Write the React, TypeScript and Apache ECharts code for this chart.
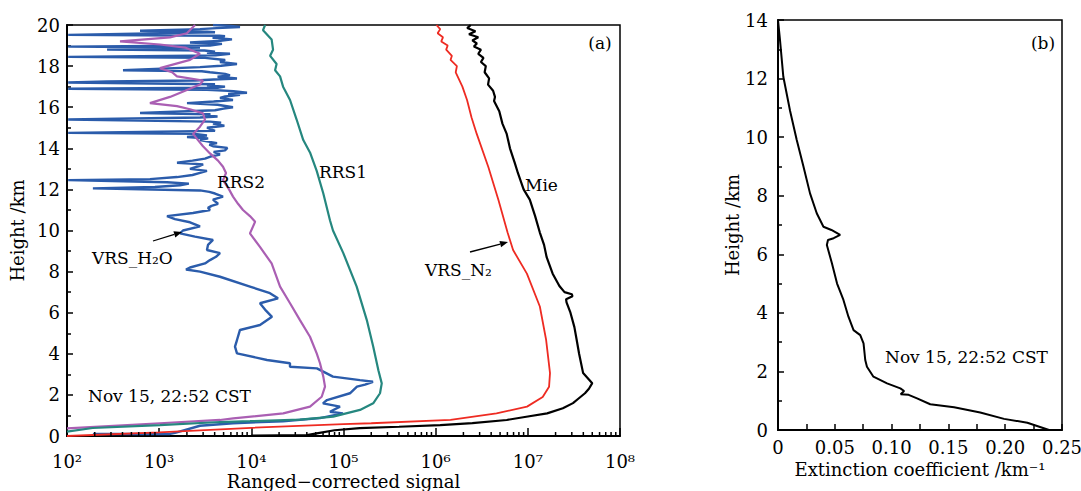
import React, { useEffect, useRef } from "react";
import * as echarts from "echarts";

const FONT = "DejaVu Serif";

// ---------- Panel (a): ranged-corrected signal vs height ----------
// [signal, height km]
const vrsH2O: [number, number][] = [
  [3836, 20], [6000, 19.95], [7532, 19.9], [4200, 19.85], [2774, 19.8], [620, 19.72], [3300, 19.68],
  [4035, 19.65], [103, 19.52], [4500, 19.48], [5179, 19.45], [3800, 19.38], [6168, 19.3], [4400, 19.22],
  [2159, 19.15], [4800, 19.08], [3560, 19.0], [103, 18.95], [2774, 18.9], [272, 18.8], [3100, 18.76],
  [4035, 18.7], [3300, 18.65], [5868, 18.6], [4100, 18.52], [103, 18.45], [3143, 18.4], [5200, 18.3],
  [4570, 18.2], [6988, 18.1], [4700, 18.02], [2774, 17.95], [405, 17.8], [2900, 17.75], [3560, 17.7],
  [5200, 17.62], [5868, 17.55], [4300, 17.48], [6988, 17.4], [3900, 17.35], [2448, 17.3], [272, 17.25],
  [103, 17.2], [4035, 17.12], [3300, 17.06], [5179, 17.0], [4400, 16.95], [103, 16.9], [3302, 16.85],
  [6400, 16.78], [8974, 16.7], [5600, 16.65], [7532, 16.6], [5200, 16.52], [4570, 16.45], [6324, 16.35],
  [3900, 16.28], [2005, 16.2], [4300, 16.12], [6324, 16.0], [5000, 15.93], [4035, 15.85], [620, 15.72],
  [3600, 15.66], [3143, 15.6], [4300, 15.55], [2774, 15.5], [103, 15.4], [3560, 15.3], [4700, 15.25],
  [3836, 15.2], [5100, 15.1], [3302, 15.0], [4035, 14.85], [103, 14.75], [2448, 14.7], [3300, 14.62],
  [2005, 14.55], [3400, 14.48], [2774, 14.4], [4241, 14.25], [3500, 14.18], [3836, 14.1], [5500, 14.02],
  [5179, 13.9], [3900, 13.82], [4570, 13.7], [3600, 13.6], [3143, 13.5], [2300, 13.4], [1562, 13.3],
  [3000, 13.22], [2774, 13.15], [2159, 13.0], [3300, 12.9], [2774, 12.8], [2300, 12.7], [1562, 12.6],
  [795, 12.5], [103, 12.45], [1216, 12.35], [2100, 12.28], [1682, 12.2], [900, 12.12], [191, 12.05],
  [2774, 11.95], [3500, 11.88], [4035, 11.8], [4926, 11.65], [3836, 11.5], [4348, 11.3], [3700, 11.2],
  [3387, 11.1], [3560, 11.0], [2328, 10.85], [1216, 10.7], [1485, 10.55], [2159, 10.4], [2774, 10.2],
  [1814, 10.0], [1682, 9.86], [2448, 9.7], [3836, 9.54], [3387, 9.3], [3302, 9.05], [4570, 8.9],
  [4137, 8.72], [3560, 8.56], [3143, 8.4], [2159, 8.2], [1955, 8.1], [2774, 8.0], [4570, 7.75],
  [9670, 7.27], [15930, 6.95], [19460, 6.7], [12410, 6.46], [14420, 6.1], [16750, 5.8], [12410, 5.4],
  [7532, 5.16], [6988, 4.67], [6648, 4.35], [6988, 4.02], [14790, 3.7], [26260, 3.54], [26260, 3.37],
  [51510, 3.29], [76840, 2.89], [150900, 2.72], [208900, 2.64], [171100, 2.5], [140000, 2.4],
  [117500, 2.08], [66180, 1.75], [59880, 1.59], [91580, 1.43], [71330, 1.18], [98650, 1.1],
  [55560, 0.87], [22060, 0.72], [6324, 0.62], [2774, 0.5], [1485, 0.15], [1310, 0.1], [191, 0.1],
];

const rrs2: [number, number][] = [
  [2450, 20], [2330, 19.9], [2000, 19.6], [1310, 19.4], [376, 19.2], [1020, 19.05], [1910, 18.9],
  [2770, 18.6], [2160, 18.3], [1020, 17.9], [1380, 17.7], [1560, 17.5], [2990, 17.3], [2770, 17.1],
  [1910, 16.8], [1310, 16.5], [794, 16.2], [1560, 16.05], [2160, 15.9], [2990, 15.7], [3140, 15.4],
  [2770, 15.05], [2330, 14.7], [2640, 14.4], [2990, 14.1], [3560, 13.75], [4350, 13.4], [4930, 13.1],
  [5310, 12.8], [4930, 12.45], [5730, 12.0], [6330, 11.65], [7170, 11.3], [8120, 11.0], [9660, 10.7],
  [11000, 10.43], [9660, 9.86], [12400, 9.2], [16600, 8.4], [20500, 7.27], [26300, 6.46],
  [33700, 5.64], [43300, 4.83], [51200, 4.02], [55600, 3.54], [60400, 2.89], [63000, 2.4],
  [58000, 1.91], [43300, 1.43], [22200, 1.1], [6370, 0.86], [4570, 0.78], [1020, 0.62], [100, 0.37],
];

const rrs1: [number, number][] = [
  [14100, 20], [13400, 19.75], [16600, 19.3], [17200, 18.8], [16000, 18.5], [18800, 18.1],
  [18100, 17.8], [20500, 17.5], [22100, 17.0], [26300, 16.35], [31000, 15.4], [36600, 14.4],
  [43300, 13.8], [51200, 12.9], [60400, 11.8], [71300, 10.5], [76900, 10.0], [99500, 8.9],
  [139000, 7.27], [179000, 5.64], [210000, 4.35], [239000, 3.2], [260000, 2.56], [249000, 2.08],
  [210000, 1.59], [151000, 1.27], [77400, 0.94], [33700, 0.8], [9660, 0.72], [4570, 0.68],
  [1020, 0.53], [190, 0.39], [100, 0.21],
];

const vrsN2: [number, number][] = [
  [1.02e6, 20], [1.12e6, 19.8], [1.05e6, 19.6], [1.2e6, 19.4], [1.15e6, 19.2], [1.35e6, 19.0],
  [1.3e6, 18.8], [1.5e6, 18.5], [1.45e6, 18.3], [1.7e6, 18.0], [1.65e6, 17.7], [1.95e6, 17.0],
  [2.19e6, 16.35], [2.45e6, 15.5], [2.79e6, 14.7], [3.72e6, 13.1], [4.79e6, 11.5], [6.03e6, 9.9],
  [6.92e6, 9.05], [9.77e6, 7.9], [1.35e7, 6.3], [1.58e7, 4.67], [1.74e7, 3.06], [1.7e7, 2.4],
  [1.45e7, 1.9], [9.8e6, 1.43], [4.57e6, 1.1], [1.45e6, 0.78], [2.0e5, 0.62], [1e5, 0.58],
  [1e4, 0.4], [1e3, 0.18], [1e2, 0.0],
];

const mie: [number, number][] = [
  [2.4e6, 20], [2.2e6, 19.85], [2.7e6, 19.7], [2.3e6, 19.55], [2.9e6, 19.4], [2.5e6, 19.25],
  [2.8e6, 19.1], [2.6e6, 18.95], [3.1e6, 18.8], [2.9e6, 18.6], [3.3e6, 18.4], [3.1e6, 18.2],
  [3.5e6, 18.0], [3.4e6, 17.7], [3.8e6, 17.4], [3.7e6, 17.1], [4.2e6, 16.8], [4.4e6, 16.5],
  [4.3e6, 16.3], [4.9e6, 15.8], [5.3e6, 15.2], [5.9e6, 14.7], [6.4e6, 14.0], [7.2e6, 13.3],
  [7.8e6, 12.8], [9.0e6, 12.0], [1.05e7, 11.5], [1.2e7, 10.7], [1.35e7, 9.9], [1.5e7, 9.3],
  [1.6e7, 8.7], [1.86e7, 7.9], [2.2e7, 7.3], [2.5e7, 7.0], [3.0e7, 6.9], [3.05e7, 6.8],
  [2.6e7, 6.65], [2.63e7, 6.5], [2.9e7, 6.0], [3.2e7, 5.3], [3.39e7, 4.67], [3.6e7, 4.0],
  [3.98e7, 3.06], [4.4e7, 2.85], [5.0e7, 2.57], [4.6e7, 2.3], [4.17e7, 2.08], [3.5e7, 1.8],
  [3.09e7, 1.6], [2.4e7, 1.35], [1.62e7, 1.1], [1.0e7, 0.95], [5.9e6, 0.78], [2.5e6, 0.63],
  [1.12e6, 0.53], [4.0e5, 0.45], [1.5e5, 0.38], [8e4, 0.28], [5.5e4, 0.15], [4e4, 0.04], [1e4, 0.02],
];

// ---------- Panel (b): extinction coefficient vs height ----------
const extinction: [number, number][] = [
  [0, 14], [0.0018, 13.3], [0.0047, 12.06], [0.0106, 10.9], [0.0165, 9.9], [0.0224, 9.0],
  [0.0282, 8.08], [0.0341, 7.4], [0.04, 6.94], [0.047, 6.83], [0.0547, 6.66], [0.049, 6.55],
  [0.044, 6.49], [0.043, 6.32], [0.0474, 5.7], [0.052, 5.0], [0.0576, 4.44], [0.062, 3.87],
  [0.0665, 3.41], [0.0724, 3.24], [0.0753, 2.96], [0.0762, 2.62], [0.0768, 2.39], [0.0783, 2.16],
  [0.084, 1.82], [0.096, 1.59], [0.1077, 1.42], [0.111, 1.33], [0.108, 1.22], [0.115, 1.2],
  [0.1224, 1.08], [0.134, 0.88], [0.155, 0.78], [0.178, 0.6], [0.199, 0.38], [0.2195, 0.25],
  [0.2386, 0],
];

const supDigits = ["⁰", "¹", "²", "³", "⁴", "⁵", "⁶", "⁷", "⁸", "⁹"];
const logMinorTicks: number[] = [];
for (let e = 2; e < 8; e++) for (let k = 2; k <= 9; k++) logMinorTicks.push(k * Math.pow(10, e));

const txt = (text: string, x: number, y: number, align = "left", size = 17) => ({
  type: "text",
  x,
  y,
  z: 100,
  style: { text, fill: "#000", fontFamily: FONT, fontSize: size, align, verticalAlign: "middle" },
});

const arrow = (x1: number, y1: number, x2: number, y2: number) => {
  const dx = x2 - x1, dy = y2 - y1;
  const len = Math.sqrt(dx * dx + dy * dy);
  const ux = dx / len, uy = dy / len;
  const bx = x2 - 8 * ux, by = y2 - 8 * uy;
  const px = -uy * 3.2, py = ux * 3.2;
  return [
    { type: "line", z: 100, shape: { x1, y1, x2: bx, y2: by }, style: { stroke: "#000", lineWidth: 1.3 } },
    { type: "polygon", z: 100, shape: { points: [[x2, y2], [bx + px, by + py], [bx - px, by - py]] }, style: { fill: "#000" } },
  ];
};

const axisText = { color: "#000", fontFamily: FONT, fontSize: 18 };
const nameText = { color: "#000", fontFamily: FONT, fontSize: 18 };

export default function App() {
  const ref = useRef<HTMLDivElement>(null);
  useEffect(() => {
    if (!ref.current) return;
    const chart = echarts.init(ref.current, undefined, { renderer: "svg" });
    const lineSeries = (data: [number, number][], color: string, width: number, xi = 0) => ({
      type: "line",
      data,
      xAxisIndex: xi,
      yAxisIndex: xi,
      showSymbol: false,
      symbol: "none",
      lineStyle: { color, width },
      silent: true,
    });
    chart.setOption({
      animation: false,
      backgroundColor: "#fff",
      grid: [
        {
          left: 67, top: 25, width: 553, height: 411, show: true, borderColor: "#000", borderWidth: 1.5,
          containLabel: false, outerBoundsMode: "none",
        },
        {
          left: 778, top: 20, width: 284, height: 410, show: true, borderColor: "#000", borderWidth: 1.5,
          containLabel: false, outerBoundsMode: "none",
        },
      ],
      xAxis: [
        {
          type: "log",
          logBase: 10,
          gridIndex: 0,
          min: 100,
          max: 1e8,
          splitNumber: 6,
          axisLine: { lineStyle: { color: "#000", width: 2 } },
          axisTick: { inside: true, length: 8, lineStyle: { color: "#000", width: 1.5 } },
          splitLine: { show: false },
          axisLabel: {
            ...axisText,
            margin: 16,
            formatter: (v: number) => "10" + supDigits[Math.round(Math.log10(v))],
          },
          name: "Ranged−corrected signal",
          nameLocation: "middle",
          nameGap: 36,
          nameMoveOverlap: false,
          nameTextStyle: nameText,
        },
        {
          type: "value",
          gridIndex: 1,
          min: 0,
          max: 0.25,
          interval: 0.05,
          axisLine: { lineStyle: { color: "#000", width: 2 } },
          axisTick: { inside: true, length: 6, lineStyle: { color: "#000", width: 1.5 } },
          minorTick: { show: true, splitNumber: 2, length: 6, lineStyle: { color: "#000", width: 1.5 } },
          splitLine: { show: false },
          axisLabel: { ...axisText, margin: 8, formatter: (v: number) => (v === 0 ? "0" : v.toFixed(2)) },
          name: "Extinction coefficient /km⁻¹",
          nameLocation: "middle",
          nameGap: 30,
          nameTextStyle: nameText,
        },
      ],
      yAxis: [
        {
          type: "value",
          gridIndex: 0,
          min: 0,
          max: 20,
          interval: 2,
          axisLine: { lineStyle: { color: "#000", width: 2 } },
          axisTick: { inside: true, length: 6, lineStyle: { color: "#000", width: 1.5 } },
          minorTick: { show: true, splitNumber: 2, length: 4, lineStyle: { color: "#000", width: 1.5 } },
          splitLine: { show: false },
          axisLabel: { ...axisText, margin: 7 },
          name: "Height /km",
          nameLocation: "middle",
          nameGap: 41,
          nameTextStyle: nameText,
        },
        {
          type: "value",
          gridIndex: 1,
          min: 0,
          max: 14,
          interval: 2,
          axisLine: { lineStyle: { color: "#000", width: 2 } },
          axisTick: { inside: true, length: 6, lineStyle: { color: "#000", width: 1.5 } },
          minorTick: { show: true, splitNumber: 2, length: 4, lineStyle: { color: "#000", width: 1.5 } },
          splitLine: { show: false },
          axisLabel: { ...axisText, margin: 10 },
          name: "Height /km",
          nameLocation: "middle",
          nameGap: 36,
          nameTextStyle: nameText,
        },
      ],
      series: [
        lineSeries(vrsH2O, "#2b5cab", 2.4),
        lineSeries(rrs2, "#aa5fb3", 2.2),
        lineSeries(rrs1, "#25877f", 2.2),
        lineSeries(vrsN2, "#ee2b22", 1.8),
        lineSeries(mie, "#000000", 2.2),
        lineSeries(extinction, "#000000", 2, 1),
        {
          type: "custom",
          xAxisIndex: 0,
          yAxisIndex: 0,
          silent: true,
          clip: false,
          z: 10,
          encode: { x: 0, y: 1 },
          data: logMinorTicks.map((v) => [v, 0]),
          renderItem: (_p: any, api: any) => {
            const p = api.coord([api.value(0), api.value(1)]);
            return {
              type: "line",
              shape: { x1: p[0], y1: p[1], x2: p[0], y2: p[1] - 4 },
              style: { stroke: "#000", lineWidth: 1.5 },
            };
          },
        },
      ],
      graphic: [
        txt("(a)", 600, 43, "center"),
        txt("RRS2", 217, 182),
        txt("RRS1", 319, 172),
        txt("Mie", 525, 185),
        txt("VRS_H₂O", 92, 258),
        txt("VRS_N₂", 425, 270),
        txt("Nov 15, 22:52 CST", 88, 396),
        txt("(b)", 1043, 43, "center"),
        txt("Nov 15, 22:52 CST", 885, 357),
        ...arrow(153, 241, 182, 232),
        ...arrow(470, 252, 508, 242),
      ],
    });
    return () => chart.dispose();
  }, []);
  return (
    <div
      ref={ref}
      style={{ position: "fixed", left: 0, top: 0, width: 1081, height: 491, background: "#fff" }}
    />
  );
}
